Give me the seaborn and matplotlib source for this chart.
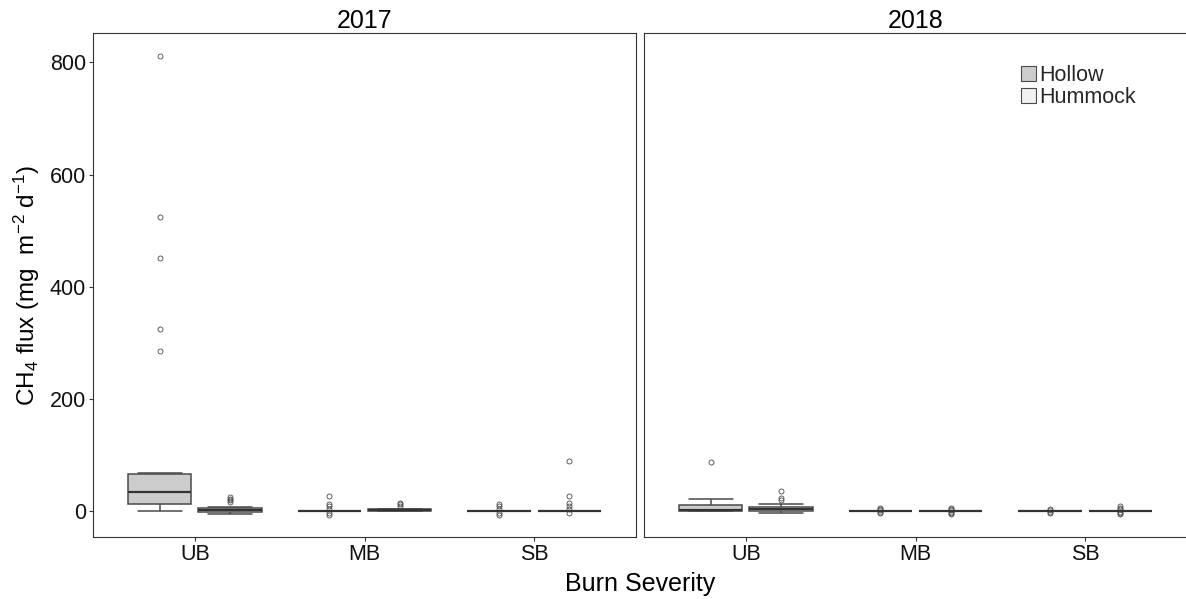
import numpy as np
import pandas as pd
import seaborn as sns
import matplotlib
matplotlib.use('Agg')
import matplotlib.pyplot as plt

# ---------------- data ----------------
years = ['2017', '2018']
severities = ['UB', 'MB', 'SB']
microforms = ['Hollow', 'Hummock']

ub_hollow_2017 = [0, 2, 4, 6, 8, 10, 11, 12, 15, 19, 24, 28, 31, 34, 38, 42, 48,
                  53, 58, 66, 67, 68, 285, 325, 452, 525, 812]
ub_hummock_2017 = [-6, -5, -4, -3.5, -3, -2, -2, -1, 0, 0.5, 1, 1.5, 1.5, 2, 3,
                   4, 4.5, 5, 5, 7, 16, 19, 22, 25]
mb_hollow_2017 = [-7, -4, -0.5, -0.4, -0.3, -0.3, -0.2, -0.2, -0.1, -0.1, 0, 0,
                  0, 0.1, 0.1, 0.2, 0.2, 0.3, 0.3, 0.4, 4, 8, 12, 26]
mb_hummock_2017 = [-0.5, -0.3, 0, 0, 0, 0, 0.3, 0.5, 0.8, 1, 1, 1.5, 2, 2.8,
                   3.5, 3.5, 3.7, 9.5, 12, 15]
sb_hollow_2017 = [-8, -4, -0.4, -0.3, -0.2, -0.2, -0.1, -0.1, 0, 0, 0, 0, 0.1,
                  0.1, 0.2, 0.2, 0.3, 0.3, 0.4, 3, 8, 12]
sb_hummock_2017 = [-3, -0.4, -0.3, -0.2, -0.2, -0.1, -0.1, 0, 0, 0, 0, 0.1,
                   0.1, 0.2, 0.2, 0.3, 0.3, 0.4, 4, 8, 15, 26, 89]

ub_hollow_2018 = [0.5, 0.5, 0.5, 0.5, 0.5, 1, 1.2, 1.4, 1.6, 3, 6, 10, 14, 18,
                  21, 88]
ub_hummock_2018 = [-4, -2, -1, 0, 0.5, 0.5, 1, 2, 2.5, 3, 3, 4, 5, 6, 7.5, 8.5,
                   12.5, 19.5, 23, 35]
mb_hollow_2018 = [-4, -2, -0.3, -0.2, -0.2, -0.1, -0.1, 0, 0, 0, 0, 0.1, 0.1,
                  0.2, 0.2, 0.3, 2, 4, 6]
mb_hummock_2018 = [-6, -4, -2, -0.3, -0.2, -0.2, -0.1, -0.1, 0, 0, 0, 0, 0.1,
                   0.1, 0.2, 0.2, 0.3, 2, 3, 5]
sb_hollow_2018 = [-3, -2, -0.3, -0.2, -0.2, -0.1, -0.1, 0, 0, 0, 0, 0.1, 0.1,
                  0.2, 0.2, 0.3, 2.5, 4]
sb_hummock_2018 = [-5, -4, -2, -0.3, -0.2, -0.2, -0.1, -0.1, 0, 0, 0, 0, 0.1,
                   0.1, 0.2, 0.2, 0.3, 4, 6, 9]

groups = {
    ('2017', 'UB', 'Hollow'): ub_hollow_2017,
    ('2017', 'UB', 'Hummock'): ub_hummock_2017,
    ('2017', 'MB', 'Hollow'): mb_hollow_2017,
    ('2017', 'MB', 'Hummock'): mb_hummock_2017,
    ('2017', 'SB', 'Hollow'): sb_hollow_2017,
    ('2017', 'SB', 'Hummock'): sb_hummock_2017,
    ('2018', 'UB', 'Hollow'): ub_hollow_2018,
    ('2018', 'UB', 'Hummock'): ub_hummock_2018,
    ('2018', 'MB', 'Hollow'): mb_hollow_2018,
    ('2018', 'MB', 'Hummock'): mb_hummock_2018,
    ('2018', 'SB', 'Hollow'): sb_hollow_2018,
    ('2018', 'SB', 'Hummock'): sb_hummock_2018,
}

rows = []
for (yr, sev, mic), vals in groups.items():
    for v in vals:
        rows.append({'Year': yr, 'Severity': sev, 'Microform': mic, 'Flux': v})
df = pd.DataFrame(rows)

# ---------------- style ----------------
sns.set_theme(style='white')
plt.rcParams['font.family'] = ['Liberation Sans', 'DejaVu Sans']
plt.rcParams['mathtext.default'] = 'regular'

palette = {'Hollow': '#CCCCCC', 'Hummock': '#F0F0F0'}
edge = '#4a4a4a'

W, H = 1186, 599
fig = plt.figure(figsize=(W / 100, H / 100), dpi=100)
bottom = (H - 536.7) / H
height = (536.7 - 33.3) / H
ax1 = fig.add_axes([93 / W, bottom, 543 / W, height])
ax2 = fig.add_axes([644 / W, bottom, 543 / W, height], sharey=ax1)

for ax, yr in zip([ax1, ax2], years):
    sub = df[df['Year'] == yr]
    sns.boxplot(data=sub, x='Severity', y='Flux', hue='Microform',
                order=severities, hue_order=microforms, palette=palette,
                saturation=1, width=0.83, gap=0.1, linecolor=edge,
                linewidth=1.1, capwidths=0.26,
                medianprops=dict(color='#333333', linewidth=1.6),
                flierprops=dict(marker='o', markerfacecolor='none',
                                markeredgecolor=edge, markersize=3.6,
                                markeredgewidth=0.6),
                ax=ax, legend=(yr == '2018'))
    ax.set_xlim(-0.6, 2.6)
    ax.set_ylim(-46, 852)
    ax.set_xlabel('')
    ax.set_ylabel('')
    ax.set_title(yr, fontsize=18, pad=3, color='black')
    for s in ax.spines.values():
        s.set_visible(True)
        s.set_color('#333333')
        s.set_linewidth(0.8)
    ax.tick_params(axis='x', which='both', bottom=True, length=3, width=0.8,
                   color='#333333', labelsize=15.5, labelcolor='#111111', pad=2)
    ax.grid(False)

ax1.set_yticks([0, 200, 400, 600, 800])
ax1.tick_params(axis='y', left=True, length=3, width=0.8, color='#333333',
                labelsize=15.5, labelcolor='#111111', pad=2)
ax2.tick_params(axis='y', left=False, labelleft=False)

# legend
handles, labels = ax2.get_legend_handles_labels()
if ax2.get_legend() is not None:
    ax2.get_legend().remove()
for h in handles:
    try:
        h.set_edgecolor(edge)
        h.set_linewidth(0.8)
    except Exception:
        pass
ax2.legend(handles, labels, loc='upper left',
           bbox_to_anchor=(1021 / W, 1 - 65 / H), bbox_transform=fig.transFigure,
           frameon=False, fontsize=15.5, handlelength=0.7, handleheight=0.7,
           handletextpad=0.15, labelspacing=0.05, borderpad=0, borderaxespad=0)

fig.text(640 / W, 1 - 584 / H, 'Burn Severity', ha='center', va='center',
         fontsize=18, color='black')
fig.text(27 / W, 1 - 285 / H, 'CH$_4$ flux (mg  m$^{-2}$ d$^{-1}$)',
         rotation=90, ha='center', va='center', fontsize=17.5, color='black')

fig.savefig('out.png', dpi=100)
